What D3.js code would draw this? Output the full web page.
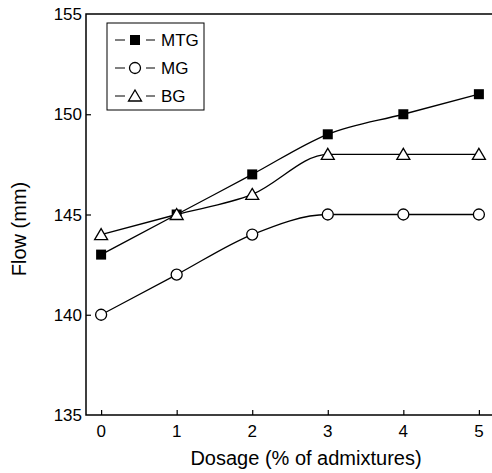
<!doctype html>
<html>
  <head>
    <meta charset="utf-8" />
    <style>
      body { margin: 0; background: #fff; }
      svg text { font-family: "Liberation Sans", Arial, sans-serif; fill: #000; }
      .series { fill: none; stroke: #000; stroke-width: 1.3px; }
    </style>
  </head>
  <body>
    <div id="chart"></div>
    <script src="https://cdn.jsdelivr.net/npm/d3@7"></script>
    <script>
      var dosage = [0, 1, 2, 3, 4, 5];
      var mtg = [143, 145, 147, 149, 150, 151];
      var mg = [140, 142, 144, 145, 145, 145];
      var bg = [144, 145, 146, 148, 148, 148];
      var yTicks = [135, 140, 145, 150, 155];
      var seriesNames = ["MTG", "MG", "BG"];

      var width = 492, height = 473;
      var margin = {top: 14, right: -2, bottom: 58, left: 86};

      var svg = d3.select("#chart").append("svg")
          .attr("width", width)
          .attr("height", height);

      var x = d3.scaleLinear()
          .domain([-0.2, 5.2])
          .range([margin.left, width - margin.right]);
      var y = d3.scaleLinear()
          .domain([135, 155])
          .range([height - margin.bottom, margin.top]);

      // frame lines (left, top, bottom)
      var x0 = x.range()[0], x1 = x.range()[1];
      var y0 = y.range()[0], y1 = y.range()[1];
      svg.append("path")
          .attr("d", "M" + x1 + "," + y1 + "H" + x0 + "V" + y0 + "H" + x1)
          .attr("fill", "none")
          .attr("stroke", "#000")
          .attr("stroke-width", 1.5);

      // axes with inward ticks
      var xAxis = svg.append("g")
          .attr("transform", "translate(0," + y0 + ")")
          .call(d3.axisTop(x).tickValues(dosage).tickSize(5).tickFormat(""));
      xAxis.select(".domain").remove();
      xAxis.selectAll("line").attr("stroke-width", 1.2);
      svg.append("g").selectAll("text")
          .data(dosage).enter().append("text")
          .attr("x", function(d) { return x(d); })
          .attr("y", y0 + 22)
          .attr("text-anchor", "middle")
          .style("font-size", "17px")
          .text(function(d) { return d; });

      var yAxis = svg.append("g")
          .attr("transform", "translate(" + x0 + ",0)")
          .call(d3.axisRight(y).tickValues(yTicks.slice(1, -1)).tickSize(5).tickFormat(""));
      yAxis.select(".domain").remove();
      yAxis.selectAll("line").attr("stroke-width", 1.2);
      svg.append("g").selectAll("text")
          .data(yTicks).enter().append("text")
          .attr("x", x0 - 4)
          .attr("y", function(d) { return y(d) + 6; })
          .attr("text-anchor", "end")
          .style("font-size", "17px")
          .text(function(d) { return d; });

      svg.append("text")
          .attr("x", 306)
          .attr("y", 465)
          .attr("text-anchor", "middle")
          .style("font-size", "20px")
          .text("Dosage (% of admixtures)");
      svg.append("text")
          .attr("transform", "translate(26,229) rotate(-90)")
          .attr("text-anchor", "middle")
          .style("font-size", "20px")
          .text("Flow (mm)");

      var line = d3.line()
          .x(function(d, i) { return x(dosage[i]); })
          .y(function(d) { return y(d); })
          .curve(d3.curveMonotoneX);

      var allSeries = [mtg, mg, bg];
      allSeries.forEach(function(s) {
        svg.append("path").attr("class", "series").attr("d", line(s));
      });

      function drawMarker(g, type, cx, cy) {
        if (type === "MTG") {
          g.append("rect").attr("x", cx - 5).attr("y", cy - 5)
              .attr("width", 10).attr("height", 10).attr("fill", "#000");
        } else if (type === "MG") {
          g.append("circle").attr("cx", cx).attr("cy", cy).attr("r", 5.5)
              .attr("fill", "#fff").attr("stroke", "#000").attr("stroke-width", 1.3);
        } else {
          g.append("path")
              .attr("d", "M" + cx + "," + (cy - 6) + "L" + (cx + 6.5) + "," + (cy + 5) + "L" + (cx - 6.5) + "," + (cy + 5) + "Z")
              .attr("fill", "#fff").attr("stroke", "#000").attr("stroke-width", 1.3);
        }
      }

      var marks = svg.append("g");
      allSeries.forEach(function(s, k) {
        s.forEach(function(v, i) {
          drawMarker(marks, seriesNames[k], x(dosage[i]), y(v));
        });
      });

      // legend
      var legend = svg.append("g");
      legend.append("rect")
          .attr("x", 107).attr("y", 23).attr("width", 97).attr("height", 87)
          .attr("fill", "#fff").attr("stroke", "#000").attr("stroke-width", 1);
      seriesNames.forEach(function(name, k) {
        var ly = 40 + k * 28;
        legend.append("line").attr("x1", 115).attr("x2", 125).attr("y1", ly).attr("y2", ly)
            .attr("stroke", "#000").attr("stroke-width", 1);
        legend.append("line").attr("x1", 146).attr("x2", 155).attr("y1", ly).attr("y2", ly)
            .attr("stroke", "#000").attr("stroke-width", 1);
        drawMarker(legend, name, 135, ly);
        legend.append("text").attr("x", 161).attr("y", ly + 6)
            .style("font-size", "17px").text(name);
      });
    </script>
  </body>
</html>
